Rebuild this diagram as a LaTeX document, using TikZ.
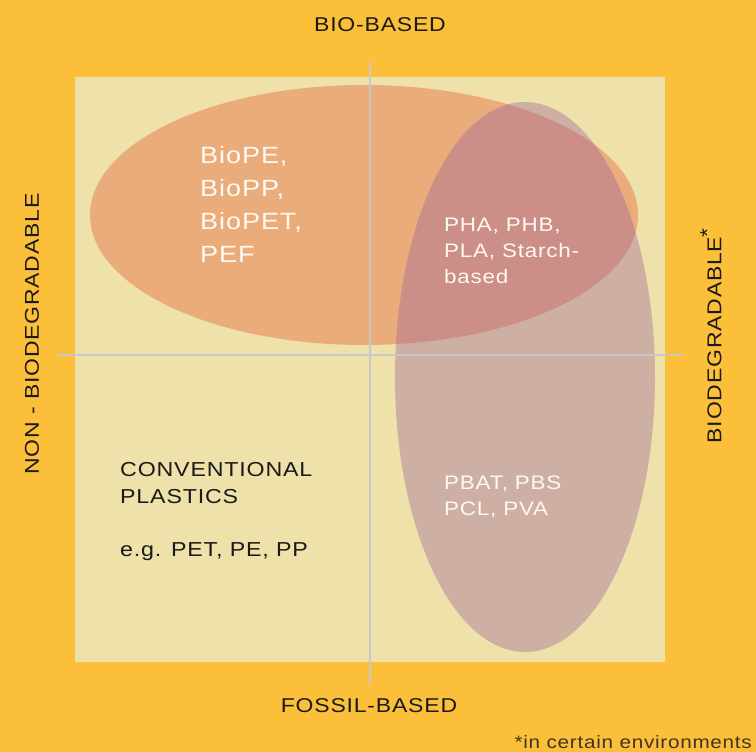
\documentclass[tikz,border=0pt]{standalone}
\usepackage{fontspec}
\setmainfont{Liberation Sans}[FakeStretch=1.15,LetterSpace=4]
\definecolor{bgyel}{HTML}{FCBF3A}
\definecolor{panel}{HTML}{EEE2AA}
\definecolor{orangeell}{HTML}{EBAC7B}
\definecolor{mauveell}{RGB}{158,100,153}
\definecolor{gridgray}{RGB}{200,200,200}
\definecolor{darktext}{HTML}{1A1A1A}
\definecolor{notetext}{HTML}{3F3520}
\definecolor{lighttext}{HTML}{FFF9F2}
\tikzset{
  gridline/.style={draw=gridgray, line width=1.8pt},
  bigtxt/.style={inner sep=0pt, anchor=base west, align=left, text=lighttext, font=\fontsize{23.5}{33}\selectfont},
  midtxt/.style={inner sep=0pt, anchor=base west, align=left, text=lighttext, font=\fontsize{19.5}{26}\selectfont},
  darktxt/.style={inner sep=0pt, anchor=base west, align=left, text=darktext, font=\fontsize{20.2}{26.5}\selectfont},
  axislabel/.style={inner sep=0pt, text=darktext, font=\fontsize{20}{24}\selectfont},
  notetxt/.style={inner sep=0pt, anchor=base east, text=notetext, font=\fontsize{18}{22}\selectfont}
}
\begin{document}
\begin{tikzpicture}[x=1pt,y=-1pt]
\useasboundingbox (0,0) rectangle (756,752);
\fill[bgyel] (0,0) rectangle (756,752);
\fill[panel] (75,77) rectangle (665,662);
\fill[orangeell] (364,215) ellipse [x radius=274pt, y radius=130pt];
\fill[mauveell, fill opacity=0.4] (525,377) ellipse [x radius=130pt, y radius=275pt];
\coordinate (vtop) at (370,62);
\coordinate (vbot) at (370,685);
\coordinate (hleft) at (58,355);
\coordinate (hright) at (683,355);
\draw[gridline] (vtop) -- (vbot);
\draw[gridline] (hleft) -- (hright);
\node[bigtxt] (biobased) at (200,262) {BioPE,\\BioPP,\\BioPET,\\PEF};
\node[midtxt] (biodeg) at (444,283) {PHA, PHB,\\PLA, Starch-\\based};
\node[midtxt] (fossildeg) at (444,515) {PBAT, PBS\\PCL, PVA};
\node[darktxt] (conv) at (120,556) {CONVENTIONAL\\PLASTICS\\ \\e.g. PET, PE, PP};
\node[axislabel, anchor=base] (top) at (380,32) {BIO-BASED};
\node[axislabel, anchor=base] (bottom) at (369,712) {FOSSIL-BASED};
\node[axislabel, rotate=90] (left) at (32,334) {NON - BIODEGRADABLE};
\node[axislabel, rotate=90] (right) at (711,336) {BIODEGRADABLE\kern-0.05em\raisebox{0.36em}{*}};
\node[notetxt] (note) at (752,748) {*in certain environments};
\end{tikzpicture}
\end{document}
